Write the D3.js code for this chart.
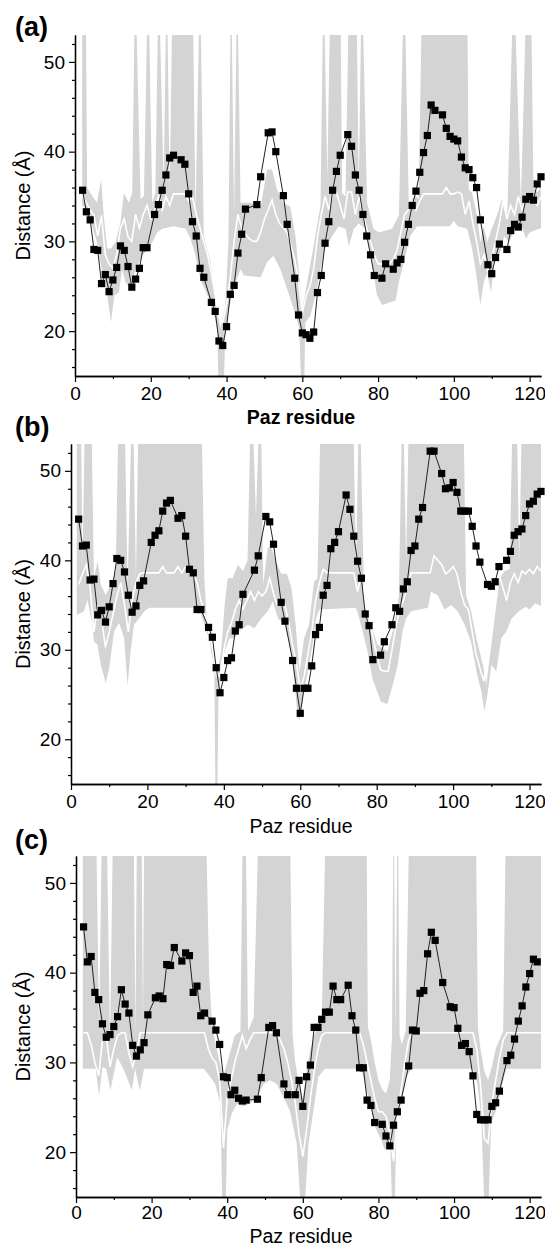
<!DOCTYPE html>
<html>
<head>
<meta charset="utf-8">
<script src="https://cdn.jsdelivr.net/npm/d3@7"></script>
<style>
body { margin: 0; background: #fff; }
svg { display: block; font-family: Arial, "Liberation Sans", sans-serif; }
</style>
</head>
<body>
<svg id="chart" width="545" height="1247"></svg>
<script>
// ---- data ----
const xTicks = [0, 20, 40, 60, 80, 100, 120];
const yTicks = [20, 30, 40, 50];

// residues with a measured distance (black squares)
const dotResA = [2,3,4,5,6,7,8,9,10,11,12,13,14,15,16,17,18,19,21,22,23,24,25,26,28,29,30,31,32,33,34,36,37,38,39,40,41,42,43,44,45,48,49,51,52,53,55,56,58,59,60,61,62,63,64,65,66,67,68,69,70,72,73,74,75,76,77,78,79,81,82,84,85,86,87,88,89,90,91,92,93,94,95,97,98,99,100,101,102,103,104,105,106,107,109,110,111,112,114,115,116,117,118,119,120,121,122,123];
const dotValA = [35.7,33.3,32.4,29.1,29.0,25.3,26.3,24.4,25.7,27.1,29.5,29.0,27.2,24.9,25.8,27.0,29.3,29.3,
  33.0,34.1,35.7,37.4,39.3,39.6, 39.1,38.6,35.3,32.2,30.6,27.0,26.0,
  23.2,22.2,18.9,18.4,20.5,24.1,25.1,28.7,30.8,33.6, 34.1,37.2, 42.1,42.2,40.0, 35.1,31.9,
  25.9,21.8,19.8,19.6,19.2,19.9,24.3,26.2,29.8,32.2,35.7,37.8,39.6,
  41.9,40.6,37.4,35.7,33.0,30.6,28.5,26.2, 25.9,27.5,
  26.9,27.6,28.0,29.9,31.9,34.0,35.6,37.7,39.9,41.8,45.2,44.6,
  44.1,42.6,41.7,41.4,41.2,39.4,38.2,38.0,37.1,36.0,32.4, 27.4,26.4,28.2,29.7,
  29.1,31.2,31.9,31.6,32.7,34.7,35.0,34.6,36.4,37.2];

const dotResB = [2,3,4,5,6,7,8,9,10,11,12,13,14,15,16,17,18,19,21,22,23,24,25,26,28,29,30,31,32,33,34,36,37,38,39,40,41,42,43,44,45,48,49,51,52,53,55,56,58,59,60,61,62,63,64,65,66,67,68,69,70,72,73,74,75,76,77,78,79,81,82,84,85,86,87,88,89,90,91,92,94,95,97,98,99,100,101,102,103,104,105,106,107,109,110,111,112,114,115,116,117,118,119,120,121,122,123];
const dotValB = [44.6,41.6,41.7,37.8,37.9,33.9,34.4,33.1,34.8,37.4,40.2,40.0,38.7,36.1,34.2,34.9,37.2,37.7,
  42.0,42.8,43.3,45.5,46.4,46.7, 44.7,45.0,42.7,39.0,38.6,34.5,34.5,
  32.5,31.4,28.0,25.2,26.9,28.8,29.1,32.1,32.8,36.2, 38.9,40.5, 44.9,44.3,41.8, 35.3,33.2,
  28.8,25.7,22.9,25.7,25.7,28.2,31.7,32.5,36.1,37.2,41.3,42.0,43.2,
  47.3,45.7,42.7,39.9,38.0,34.0,32.7,28.9, 29.4,30.9,
  32.8,34.7,34.3,36.8,37.6,41.1,41.6,44.6,45.9, 52.2,52.2,
  49.7,48.0,48.1,48.7,47.6,45.5,45.5,45.5,43.8,41.6,39.8, 37.3,37.1,37.6,39.3,
  40.0,41.0,42.8,43.2,43.5,45.0,46.3,46.6,47.4,47.7];

const dotResC = [2,3,4,5,6,7,8,9,10,11,12,13,14,15,16,17,18,19,21,22,23,24,25,26,28,29,30,31,32,33,34,36,37,38,39,40,41,42,43,44,45,48,49,51,52,53,55,56,58,59,60,61,62,63,64,65,66,67,68,69,70,72,73,74,75,76,77,78,79,81,82,83,84,85,86,88,89,90,91,92,93,94,95,97,99,100,101,102,103,104,105,106,107,108,109,110,111,112,114,115,116,117,118,119,120,121,122];
const dotValC = [45.1,41.2,41.8,37.8,37.0,34.3,32.8,33.1,34.0,35.1,38.1,36.5,35.5,31.9,30.7,31.4,32.2,35.3,
  37.2,37.4,37.1,40.9,40.8,42.8, 41.3,42.2,41.9,37.8,38.5,35.2,35.5,
  34.6,33.6,32.0,28.4,28.3,26.4,26.9,26.0,25.7,25.8, 25.9,28.3, 33.9,34.1,33.3, 27.6,26.4,
  26.4,28.0,25.1,28.4,29.7,33.9,33.9,34.8,35.6,35.6,38.5,37.0,37.0,
  38.6,35.2,33.6,29.4,29.4,25.8,25.2,23.3, 23.1,21.8,20.7,23.0,24.5,25.8,
  29.6,33.6,33.5,37.7,38.0,42.1,44.5,43.6, 38.9,
  36.2,36.1,33.8,31.9,32.1,31.2,28.5,24.2,23.6,23.6,23.6,25.1,25.5,26.8,
  30.2,30.8,32.6,34.6,36.3,38.4,39.9,41.5,41.2];

// white line (residues 2..123)
const meanRes = d3.range(2, 124);
const meanA = [35.1,34.3,33.5,32.9,30.6,32.9,28.5,27.5,27.0,28.5,31.5,32.5,30.5,30.0,33.0,31.5,33.0,34.0,32.5,33.5,
  35.0,33.5,35.0,34.0,35.3,35.3,35.3,35.3,34.5,35.0,33.0,31.5,30.0,28.5,26.5,24.0,21.5,21.0,23.0,26.0,
  30.0,33.0,31.5,30.8,30.3,30.0,30.0,31.0,32.5,33.5,34.6,33.0,32.0,31.5,31.0,29.5,28.0,25.5,22.0,24.0,
  25.0,27.0,30.5,33.0,35.0,33.5,35.5,35.5,34.0,32.5,35.5,35.5,33.0,35.0,33.0,31.5,30.0,28.5,27.5,27.5,
  27.5,27.5,28.0,29.0,31.0,33.0,33.5,34.5,33.5,34.5,35.3,35.3,35.3,35.3,35.3,35.3,36.0,35.3,35.3,35.5,
  35.3,33.0,34.5,32.0,30.0,27.5,28.5,26.5,28.0,30.0,32.0,34.5,32.5,34.0,33.0,35.0,33.5,35.0,34.5,35.0,
  34.0,35.0];
const meanB = [37.3,38.5,39.5,37.0,32.0,35.0,33.5,30.3,32.0,34.0,36.0,37.5,35.0,32.0,35.5,37.5,38.5,38.6,38.6,38.6,
  38.6,38.6,39.3,38.6,38.6,38.6,39.3,38.6,39.3,38.8,38.5,37.5,35.5,34.0,32.5,30.5,27.5,27.0,30.0,32.0,
  33.0,34.5,35.5,34.5,35.5,36.5,35.5,36.5,36.0,36.5,38.0,36.3,35.0,35.5,35.0,33.0,30.5,28.5,25.5,27.0,
  29.5,32.0,35.5,37.5,39.0,38.6,38.6,38.6,38.6,38.6,38.6,38.6,38.6,36.5,38.5,35.0,33.5,31.5,29.5,27.8,
  27.6,27.6,30.0,32.5,34.5,35.5,37.0,38.6,38.6,38.6,38.6,38.6,38.6,40.5,40.0,39.5,38.5,38.8,39.3,38.5,
  36.5,35.0,34.5,32.0,29.5,28.0,26.5,29.0,33.0,36.0,38.5,37.0,35.5,37.5,38.5,37.5,38.8,38.5,39.0,38.5,
  39.3,38.8];
const meanC = [33.3,33.3,32.0,30.0,28.5,32.5,33.0,29.5,31.5,33.0,33.3,33.3,31.0,29.5,31.0,33.3,33.3,33.3,33.3,33.3,
  33.3,33.3,33.3,33.3,33.3,33.3,33.3,33.3,33.3,33.3,33.3,33.3,33.3,31.5,30.5,30.0,28.0,20.5,26.0,28.0,
  30.0,31.5,33.0,31.5,32.5,33.3,33.3,33.3,33.3,33.3,33.3,33.3,32.5,31.5,30.0,28.0,25.5,22.0,19.5,22.5,
  26.0,29.0,31.5,33.0,33.3,33.3,33.3,33.3,33.3,33.3,33.3,33.3,33.3,33.3,32.0,30.0,28.0,26.0,24.5,24.5,
  24.0,22.0,19.0,24.0,27.0,30.0,32.5,33.3,33.3,33.3,33.3,33.3,33.3,33.3,33.3,33.3,33.3,33.3,33.3,33.3,
  33.3,33.3,33.3,33.3,31.5,27.5,21.5,21.0,25.5,28.0,30.5,32.5,33.3,33.3,33.3,33.3,33.3,33.3,33.3,33.3,
  33.3,33.3];

// grey band: upper edge and lower edge (60 = runs off the top)
const hiResA = [1.9,2.8,3.2,4.5,5.8,6.9,7.6,8.5,9.5,10.7,12,12.9,14.2,15.1,15.9,17.3,18.2,19.3,20.4,21.2,22.1,23.4,24.2,25,25.8,31,31.8,33,34,35.8,37.5,38.4,39.7,40.5,41.2,42,42.8,43.7,46.3,49,50.7,52,53.3,55,56.8,58.2,59,60,61.3,63,64.8,65.6,66.6,67.5,70,70.5,71.4,72.4,74.2,74.9,75.7,77.1,78.8,80.2,83.7,85.5,86.9,88.1,89.8,90.7,91.7,103.5,103.9,104.8,106.1,107,107.9,108.8,110,111.4,112.7,114.1,115.8,117.7,119.3,120.3,121,122,123];
const hiValA = [60,60,36.0,35.1,34.3,36.9,32.8,29.2,29.2,29.9,32.1,35.4,34.3,35.4,60,34.7,35.1,60,34.3,35.4,60,36.2,60,35.4,60,60,32.9,60,30.6,27.7,22.5,20.3,22.9,30.0,60,33.0,60,34.3,34.3,33.9,38.0,38.0,35.8,34.3,33.9,30.6,26.9,22.5,25.5,29.5,34.0,60,37.0,60,60,35.4,35.0,60,60,35.7,60,34.3,31.4,31.0,31.4,32.9,60,34.3,35.1,34.7,60,60,35.8,35.4,32.9,29.9,31.7,29.9,31.4,32.9,34.7,32.9,60,34.3,60,60,36.0,35.5,36.0];
const loResA = [1.9,3.2,4.5,5.8,6.7,7.6,8.5,9.5,10.4,11.6,12.4,13.3,14.6,16,17.3,19,20.4,21.7,23,26.1,29.2,30.5,31.8,33.1,34.9,36.2,37.5,37.9,39.3,39.7,41,42.4,43.7,44.6,49,50.7,52.4,54.2,56,57.7,59.2,59.7,60.5,60.8,62.1,63.5,64.8,66.1,67.9,69.6,71.4,72.3,73.6,74.9,76.7,78.4,79.7,81.1,84.6,85.5,86.8,88.5,90.3,99,100,101,103.5,104.8,105.7,107,107.9,108.8,109.8,110.7,112,113.3,114.6,116.4,118.2,119,120,123];
const loValA = [34.0,33.6,31.7,29.9,27.7,25.5,24.0,21.0,24.0,24.3,26.9,25.5,24.7,26.9,28.0,29.2,29.9,31.0,31.4,31.7,31.4,30.3,28.4,25.8,24.0,22.9,20.3,14,14,20.3,23.2,25.5,26.9,26.2,26.0,27.7,28.4,26.9,24.7,22.5,20.3,14,14,21.0,21.7,24.0,26.9,29.2,30.6,31.7,31.4,29.5,31.4,32.0,31.4,27.7,24.0,22.9,23.4,25.5,27.7,30.6,31.7,31.7,32.3,31.7,31.4,29.2,26.9,22.9,25.5,26.5,24.3,28.0,28.4,30.6,29.9,31.7,31.4,30.3,31.0,31.5];

const hiResB = [1.5,2.5,3.0,3.8,5.2,6.0,7.0,7.8,9.1,10.4,11.7,12.6,13.9,14.8,16.1,17.0,17.8,34.0,34.9,35.6,36.9,38.0,39.3,40.2,41.0,42.3,43.7,45.0,46.2,47.2,48.4,49.6,50.3,51.5,52.4,53.5,55.0,56.5,57.7,58.8,59.8,61.0,62.3,63.6,64.5,65.5,73.7,74.6,75.5,76.7,78.5,80.2,82.8,84.6,85.8,86.8,87.7,88.6,102.6,103.4,104.7,106.1,107.8,108.7,110.0,111.1,112.2,113.5,114.8,115.7,116.5,117.3,118.2,123.5];
const hiValB = [60,60,39.5,60,60,38.0,39.9,37.3,36.1,37.3,38.8,60,60,36.9,60,38.0,60,60,38.0,32.8,29.4,26.8,29.8,35.0,38.0,38.0,39.5,38.8,40.0,60,45.0,60,37.3,41.4,41.5,40.0,38.5,38.5,36.9,32.8,27.5,31.3,32.8,37.6,38.0,60,60,39.5,60,35.8,32.8,30.6,29.8,32.8,36.0,60,40.0,60,60,36.1,34.3,31.3,28.3,26.1,30.6,34.3,38.0,38.8,39.0,60,60,40.0,60,60];
const loResB = [1.5,3.4,4.3,5.6,6.0,6.9,7.8,9.1,10,11.3,12.6,13.9,14.8,15.6,16.5,17.8,19.2,20.5,33.6,34.9,36.7,37.5,37.8,38.3,38.6,39.3,40.2,41.5,42.8,44.1,46.3,48,49.8,51.5,52.8,54.2,55.9,57.7,59.2,59.8,61,62.3,63.2,64.1,65,74.5,75,76.3,77.6,78.9,81.1,82.8,84.2,85.5,86.8,87.7,89,93.4,94.2,96,97.7,99.5,101.2,103,104.7,106.1,107.4,108.2,109.1,110,111.3,112.6,114,115.3,117.2,119,120,121.5,123.5];
const loValB = [33.9,34.3,35.6,32.8,30.9,30.6,28.3,26.3,28.0,32.1,33.0,31.3,26.0,29.8,32.8,33.5,34.3,34.7,34.7,32.8,30.6,28.3,14,14,25.3,27.6,29.8,31.3,31.3,32.1,32.8,32.4,33.5,34.3,35.4,33.5,32.8,29.8,23.1,22.0,25.3,28.3,30.6,33.5,34.5,34.7,34.2,32.1,29.8,26.8,24.2,23.9,26.1,28.3,32.1,33.5,34.3,34.7,36.5,36.1,34.5,35.0,34.3,32.8,30.9,27.6,25.3,23.1,25.3,28.3,27.6,31.3,32.1,33.5,34.3,34.8,34.5,35.2,34.8];

const hiResC = [1.8,5.2,6.1,7.0,8.0,9.0,9.9,15.2,15.7,16.2,17.3,17.7,18.1,34.2,35.2,36,37,38,39,40,41,42,43.5,44.2,44.8,45.5,47,48.5,56.5,57.3,58,59,60,61,62,63,64,65,66.2,76.8,77.2,78,79,80,81,82,83,83.6,84,84.5,85.1,85.6,86.2,87.2,88.3,105.7,106.3,107,108,109,110,111,112,113,113.8,123.5];
const hiValC = [60,60,33.6,60,60,32.1,60,60,32.8,60,60,34.0,60,60,40.0,34.0,32.0,30.0,28.5,30.0,31.5,33.0,33.5,60,60,33.5,35.0,60,60,33.0,30.0,27.5,26.0,29.0,31.5,33.0,34.0,34.5,60,60,34.0,32.5,30.0,28.0,27.0,26.5,28.0,33.0,60,33.0,60,33.0,32.0,33.5,60,60,34.0,31.5,29.0,28.0,29.5,31.5,32.5,33.5,60,60];
const loResC = [1.8,5.2,6.1,7.0,8.0,9.1,10.9,12.5,14.8,15.6,16.9,18,33.8,35.5,36.8,38.2,38.7,39.6,40,41.2,42.6,44.3,46,47.8,49.6,51.4,53.1,54.9,56.6,58.4,59.4,60.5,61.5,62.8,64.1,65.8,75.5,76.4,77.8,79.1,80.8,81.7,83.1,83.6,84.3,84.8,86.1,87.4,88.7,105,106.2,107.2,108,109.1,109.8,111.1,112.4,113.8,123.5];
const loValC = [29.3,29.3,26.3,29.5,29.3,26.9,30.6,29.3,26.9,29.3,26.9,29.3,29.3,28.4,27.6,25.4,14,14,22.4,24.3,25.4,25.1,25.4,26.1,27.6,28.0,27.6,26.1,24.6,20.9,14,14,20.9,24.6,28.4,29.3,29.3,27.6,25.4,22.8,21.3,20.2,21.6,14,14,23.2,25.8,28.4,29.3,29.3,27.6,23.9,14,14,23.2,24.6,26.9,29.3,29.3];

// ---- layout ----
const svg = d3.select('#chart');
const plotRight = 541;
const panels = [
  { tag: '(a)', left: 75, top: 35, bottom: 376, tagY: 36, titleY: 424, pad: 5, boldTitle: true,
    dotRes: dotResA, dotVal: dotValA, mean: meanA, hiRes: hiResA, hiVal: hiValA, loRes: loResA, loVal: loValA },
  { tag: '(b)', left: 71, top: 444, bottom: 784, tagY: 436, titleY: 833, pad: 5, boldTitle: false,
    dotRes: dotResB, dotVal: dotValB, mean: meanB, hiRes: hiResB, hiVal: hiValB, loRes: loResB, loVal: loValB },
  { tag: '(c)', left: 76, top: 856, bottom: 1197, tagY: 849, titleY: 1243, pad: 3, boldTitle: false,
    dotRes: dotResC, dotVal: dotValC, mean: meanC, hiRes: hiResC, hiVal: hiValC, loRes: loResC, loVal: loValC }
];

panels.forEach(function (p, i) {
  const x = d3.scaleLinear().domain([0, 123]).range([p.left, plotRight]);
  const y = d3.scaleLinear().domain([15, 53]).range([p.bottom, p.top]);
  const g = svg.append('g');

  const clipId = 'clip' + i;
  svg.append('clipPath').attr('id', clipId)
    .append('rect')
    .attr('x', p.left).attr('y', p.top)
    .attr('width', plotRight - p.left).attr('height', p.bottom - p.top);

  const plot = g.append('g').attr('clip-path', 'url(#' + clipId + ')');

  // grey band: upper edge left->right, then lower edge right->left
  const upper = p.hiRes.map((r, k) => [r, p.hiVal[k]]);
  const lower = p.loRes.map((r, k) => [r, p.loVal[k]]).reverse();
  const edge = d3.line().x(d => x(d[0])).y(d => y(d[1]));
  plot.append('path')
    .attr('d', edge(upper.concat(lower)) + 'Z')
    .attr('fill', '#d4d4d4')
    .attr('stroke', 'none');

  // white line
  const meanPts = meanRes.map((r, k) => [r, p.mean[k]]);
  plot.append('path')
    .attr('d', edge(meanPts))
    .attr('fill', 'none')
    .attr('stroke', '#fff')
    .attr('stroke-width', 1.6);

  // black squares joined by a thin line
  const dots = p.dotRes.map((r, k) => [r, p.dotVal[k]]);
  g.append('path')
    .attr('d', edge(dots))
    .attr('fill', 'none')
    .attr('stroke', '#222')
    .attr('stroke-width', 1);

  g.selectAll('.sq' + i).data(dots).enter()
    .append('rect')
    .attr('class', 'sq' + i)
    .attr('x', d => x(d[0]) - 3.6)
    .attr('y', d => y(d[1]) - 3.6)
    .attr('width', 7.2)
    .attr('height', 7.2)
    .attr('fill', '#000');

  // axes
  const yMinor = d3.range(16, 53, 2).filter(v => v % 10 !== 0);
  const xMinor = d3.range(10, 121, 20);

  const yAx = g.append('g').attr('transform', 'translate(' + p.left + ',0)');
  yAx.call(d3.axisLeft(y).tickValues(yTicks).tickSize(6).tickSizeOuter(0).tickPadding(4));
  yAx.append('g').call(d3.axisLeft(y).tickValues(yMinor).tickSize(3).tickSizeOuter(0).tickFormat(''));

  const xAx = g.append('g').attr('transform', 'translate(0,' + p.bottom + ')');
  xAx.call(d3.axisBottom(x).tickValues(xTicks).tickSize(6).tickSizeOuter(0).tickPadding(p.pad));
  xAx.append('g').call(d3.axisBottom(x).tickValues(xMinor).tickSize(3).tickSizeOuter(0).tickFormat(''));

  g.selectAll('.domain').attr('stroke', '#000').attr('stroke-width', 1.3);
  g.selectAll('.tick line').attr('stroke', '#000').attr('stroke-width', 1.2);
  g.selectAll('.tick text').attr('fill', '#000').style('font-size', '19px');

  // titles
  g.append('text')
    .attr('x', 301).attr('y', p.titleY)
    .attr('text-anchor', 'middle')
    .style('font-size', '19.5px')
    .style('font-weight', p.boldTitle ? 'bold' : 'normal')
    .text('Paz residue');

  g.append('text')
    .attr('transform', 'translate(29.5,' + ((p.top + p.bottom) / 2) + ') rotate(-90)')
    .attr('text-anchor', 'middle')
    .style('font-size', '20px')
    .text('Distance (Å)');

  g.append('text')
    .attr('x', 15).attr('y', p.tagY)
    .style('font-size', '27px')
    .style('font-weight', 'bold')
    .text(p.tag);
});
</script>
</body>
</html>
